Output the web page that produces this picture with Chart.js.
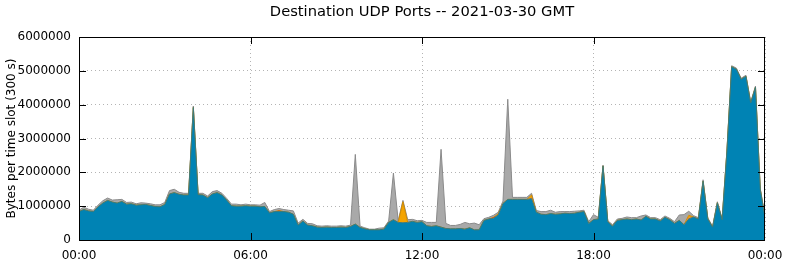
<!DOCTYPE html>
<html>
<head>
<meta charset="utf-8">
<script src="https://cdn.jsdelivr.net/npm/chart.js@4"></script>
<style>
  html, body { margin: 0; padding: 0; background: #fff; }
  #wrap { width: 785px; height: 264px; }
</style>
</head>
<body>
<div id="wrap"><canvas id="udpChart" width="785" height="264"></canvas></div>
<script>
// 10-minute slots over the day, values in millions of bytes per 300 s slot
const slotHours = Array.from({ length: 145 }, (_, i) => i / 6);

const otherPorts = [ // blue, bottom layer
  0.84, 0.90, 0.86, 0.84, 0.98, 1.09,
  1.17, 1.12, 1.09, 1.14, 1.06, 1.07,
  1.03, 1.04, 1.05, 1.02, 0.99, 0.98,
  1.05, 1.36, 1.40, 1.35, 1.33, 1.33,
  3.92, 1.34, 1.33, 1.25, 1.36, 1.40,
  1.33, 1.18, 1.01, 1.00, 1.00, 1.01,
  1.00, 1.00, 0.98, 0.99, 0.80, 0.84,
  0.84, 0.84, 0.82, 0.76, 0.44, 0.56,
  0.44, 0.42, 0.38, 0.37, 0.38, 0.37,
  0.37, 0.38, 0.37, 0.40, 0.47, 0.37,
  0.33, 0.30, 0.30, 0.30, 0.32, 0.52,
  0.60, 0.52, 0.51, 0.52, 0.55, 0.52,
  0.54, 0.42, 0.40, 0.42, 0.38, 0.34,
  0.33, 0.33, 0.34, 0.32, 0.36, 0.30,
  0.30, 0.58, 0.62, 0.64, 0.74, 1.08,
  1.20, 1.20, 1.20, 1.20, 1.20, 1.22,
  0.82, 0.76, 0.75, 0.78, 0.76, 0.77,
  0.79, 0.78, 0.79, 0.82, 0.84, 0.49,
  0.60, 0.62, 2.19, 0.54, 0.41, 0.58,
  0.60, 0.62, 0.60, 0.62, 0.59, 0.70,
  0.62, 0.62, 0.56, 0.67, 0.60, 0.49,
  0.58, 0.45, 0.62, 0.68, 0.62, 1.74,
  0.62, 0.38, 1.10, 0.60, 2.60, 5.12,
  5.05, 4.75, 4.84, 4.05, 4.52, 1.50,
  0.66
];

const redPorts = [
  0, 0, 0, 0, 0, 0,   0, 0, 0, 0, 0, 0,   0, 0, 0, 0, 0, 0,   0, 0, 0, 0, 0, 0,
  0, 0, 0, 0, 0, 0,   0, 0, 0, 0, 0, 0,   0, 0, 0, 0, 0, 0,   0.03, 0, 0, 0, 0, 0,
  0, 0, 0, 0, 0, 0,   0, 0, 0, 0, 0, 0,   0, 0, 0, 0, 0, 0,   0, 0, 0, 0, 0, 0,
  0, 0, 0, 0, 0, 0,   0, 0, 0, 0, 0, 0,   0, 0, 0, 0.03, 0, 0,   0, 0, 0, 0, 0, 0.03,
  0, 0, 0, 0, 0, 0,   0, 0, 0, 0, 0, 0,   0, 0, 0, 0, 0, 0,   0, 0, 0, 0, 0, 0,
  0, 0, 0, 0, 0, 0,   0, 0, 0.04, 0, 0, 0,   0, 0, 0, 0, 0, 0,   0, 0, 0, 0, 0, 0,
  0
];

const orangePorts = [
  0, 0, 0, 0, 0, 0,   0, 0, 0, 0, 0, 0,   0, 0, 0, 0, 0, 0,   0, 0, 0, 0, 0, 0,
  0, 0, 0, 0, 0, 0,   0, 0, 0, 0, 0, 0,   0, 0, 0, 0, 0, 0,   0, 0, 0, 0, 0, 0,
  0, 0, 0, 0, 0, 0,   0, 0, 0, 0, 0, 0,   0, 0, 0, 0, 0, 0,   0, 0, 0.62, 0, 0, 0,
  0, 0, 0, 0, 0, 0,   0, 0, 0, 0, 0, 0,   0, 0, 0, 0, 0.03, 0,   0, 0, 0, 0, 0, 0.08,
  0, 0, 0, 0, 0, 0,   0, 0, 0, 0, 0, 0,   0, 0, 0, 0, 0, 0,   0, 0, 0, 0, 0, 0,
  0, 0, 0, 0, 0, 0,   0, 0, 0.07, 0, 0, 0,   0, 0, 0, 0, 0, 0,   0, 0, 0, 0, 0, 0,
  0
];

const grayPorts = [ // top layer
  0.04, 0.07, 0.05, 0.04, 0.05, 0.07,
  0.07, 0.06, 0.10, 0.06, 0.05, 0.05,
  0.04, 0.06, 0.04, 0.05, 0.05, 0.06,
  0.06, 0.10, 0.10, 0.06, 0.05, 0.05,
  0.04, 0.04, 0.05, 0.05, 0.07, 0.06,
  0.05, 0.05, 0.05, 0.06, 0.04, 0.05,
  0.04, 0.04, 0.05, 0.12, 0.04, 0.06,
  0.06, 0.06, 0.06, 0.10, 0.06, 0.05,
  0.05, 0.06, 0.04, 0.04, 0.04, 0.04,
  0.04, 0.04, 0.04, 0.04, 2.06, 0.04,
  0.03, 0.02, 0.02, 0.05, 0.04, 0.04,
  1.38, 0.05, 0.04, 0.08, 0.06, 0.05,
  0.04, 0.10, 0.12, 0.10, 2.30, 0.15,
  0.10, 0.10, 0.12, 0.20, 0.12, 0.20,
  0.15, 0.05, 0.05, 0.06, 0.05, 0.07,
  2.96, 0.06, 0.06, 0.06, 0.06, 0.05,
  0.05, 0.08, 0.09, 0.10, 0.06, 0.07,
  0.05, 0.06, 0.06, 0.04, 0.04, 0.05,
  0.15, 0.05, 0.02, 0.03, 0.04, 0.04,
  0.04, 0.06, 0.06, 0.04, 0.12, 0.04,
  0.04, 0.04, 0.04, 0.04, 0.04, 0.05,
  0.16, 0.30, 0.12, 0.04, 0.04, 0.04,
  0.03, 0.03, 0.03, 0.03, 0.03, 0.03,
  0.03, 0.03, 0.03, 0.03, 0.03, 0.03,
  0.03
];

const yTicks = [0, 1000000, 2000000, 3000000, 4000000, 5000000, 6000000];
const xTickHours = [0, 6, 12, 18, 24];
const chartTitle = "Destination UDP Ports -- 2021-03-30 GMT";

const toPoints = arr => arr.map((v, i) => ({ x: slotHours[i], y: v * 1e6 }));
const font = { family: "DejaVu Sans, sans-serif", size: 12 };

// gnuplot style frame with inward ticks, title centred on the plot
const framePlugin = {
  id: "frame",
  afterDraw(chart) {
    const { ctx, chartArea: a, scales } = chart;
    ctx.save();
    ctx.strokeStyle = "#000";
    ctx.lineWidth = 1;
    ctx.strokeRect(a.left + 0.5, a.top + 0.5, a.right - a.left - 1, a.bottom - a.top);
    ctx.beginPath();
    yTicks.slice(1, -1).forEach(v => {
      const y = Math.round(scales.y.getPixelForValue(v)) + 0.5;
      ctx.moveTo(a.left, y); ctx.lineTo(a.left + 7, y);
      ctx.moveTo(a.right - 7, y); ctx.lineTo(a.right, y);
    });
    xTickHours.slice(1, -1).forEach(h => {
      const x = Math.round(scales.x.getPixelForValue(h)) + 0.5;
      ctx.moveTo(x, a.top); ctx.lineTo(x, a.top + 7);
      ctx.moveTo(x, a.bottom); ctx.lineTo(x, a.bottom - 7);
    });
    ctx.stroke();
    ctx.fillStyle = "#000";
    ctx.font = "14.7px 'DejaVu Sans', sans-serif";
    ctx.textAlign = "center";
    ctx.textBaseline = "middle";
    ctx.fillText(chartTitle, (a.left + a.right) / 2, 12);
    ctx.restore();
  }
};

new Chart(document.getElementById("udpChart"), {
  type: "line",
  data: {
    datasets: [
      { label: "other", data: toPoints(otherPorts), backgroundColor: "#0083b4",
        borderColor: "#3f7a78", borderWidth: 1, fill: "origin" },
      { label: "red", data: toPoints(redPorts), backgroundColor: "#d04010",
        borderColor: "#d04010", borderWidth: 0, fill: "-1" },
      { label: "orange", data: toPoints(orangePorts), backgroundColor: "#f4a400",
        borderColor: "#d08a00", borderWidth: 1, fill: "-1" },
      { label: "gray", data: toPoints(grayPorts), backgroundColor: "#a9a9a9",
        borderColor: "#8a8a8a", borderWidth: 1, fill: "-1" }
    ]
  },
  options: {
    responsive: false,
    animation: false,
    layout: { padding: { left: 0, right: 20, top: 37, bottom: 0 } },
    elements: { point: { radius: 0 }, line: { tension: 0 } },
    scales: {
      x: {
        type: "linear",
        min: 0,
        max: 24,
        afterBuildTicks: s => { s.ticks = xTickHours.map(v => ({ value: v })); },
        afterFit: s => { s.height = 24; s.paddingLeft = 0; s.paddingRight = 0; },
        ticks: {
          color: "#000",
          font: font,
          padding: 9,
          maxRotation: 0,
          callback: v => String(v % 24).padStart(2, "0") + ":00"
        },
        grid: { color: "#b4b4b4", lineWidth: 1, drawTicks: false },
        border: { display: false, dash: [1, 3] }
      },
      y: {
        stacked: true,
        min: 0,
        max: 6000000,
        afterBuildTicks: s => { s.ticks = yTicks.map(v => ({ value: v })); },
        afterFit: s => { s.width = 79; },
        ticks: { color: "#000", font: font, padding: 8, callback: v => String(v) },
        grid: { color: "#b4b4b4", lineWidth: 1, drawTicks: false },
        border: { display: false, dash: [1, 3] },
        title: {
          display: true,
          text: "Bytes per time slot (300 s)",
          color: "#000",
          font: font,
          padding: { top: 5, bottom: 0 }
        }
      }
    },
    plugins: {
      legend: { display: false },
      tooltip: { enabled: false },
      title: { display: false }
    }
  },
  plugins: [framePlugin]
});
</script>
</body>
</html>
